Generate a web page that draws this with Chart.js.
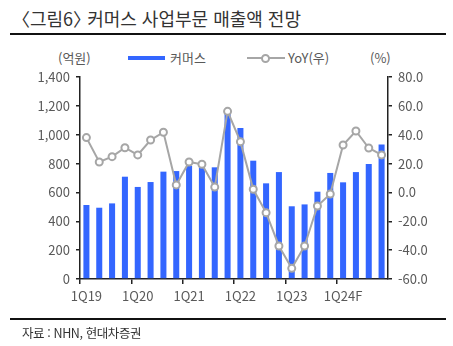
<!DOCTYPE html>
<html lang="ko">
<head>
<meta charset="utf-8">
<script src="https://cdn.jsdelivr.net/npm/chart.js@4"></script>
<style>
    body { margin: 0; background: #fff; font-family: 'Noto Sans CJK KR', sans-serif; }
    #wrap { position: relative; width: 453px; height: 346px; overflow: hidden; }
    #chartBox { position: absolute; left: 0; top: 0; width: 453px; height: 346px; }
    .title { position: absolute; left: 21px; top: 5px; font-size: 18px; color: #333; letter-spacing: 0px; white-space: nowrap; font-feature-settings: "halt"; }
    .rule { position: absolute; left: 10px; width: 436px; height: 2px; background: #111; }
    .src { position: absolute; left: 22px; top: 323px; font-size: 12.5px; color: #333; letter-spacing: -0.4px; white-space: nowrap; }
    .lg { position: absolute; font-size: 13px; color: #595959; white-space: nowrap; line-height: 14px; }
    .sw-bar { position: absolute; left: 128px; top: 56px; width: 37px; height: 4px; background: #3366ff; }
    .sw-line { position: absolute; left: 247px; top: 57px; width: 38px; height: 2px; background: #a6a6a6; }
    .sw-dot { position: absolute; left: 261px; top: 54px; width: 5px; height: 5px; border: 2px solid #a6a6a6; border-radius: 50%; background: #fff; }
</style>
</head>
<body>
<div id="wrap">
    <div class="title">〈그림6〉 커머스 사업부문 매출액 전망</div>
    <div class="rule" style="top:33px;"></div>
    <div class="lg" style="left:58px; top:51px;">(억원)</div>
    <div class="sw-bar"></div>
    <div class="lg" style="left:170px; top:51px;">커머스</div>
    <div class="sw-line"></div>
    <div class="sw-dot"></div>
    <div class="lg" style="left:288px; top:51px;">YoY(우)</div>
    <div class="lg" style="left:370px; top:51px;">(%)</div>
    <div id="chartBox"><canvas id="c"></canvas></div>
    <div class="rule" style="top:318px;"></div>
    <div class="src">자료 : NHN, 현대차증권</div>
</div>
<script>
// quarters 1Q19 .. 4Q24F
const quarters = [
    '1Q19', '2Q19', '3Q19', '4Q19',
    '1Q20', '2Q20', '3Q20', '4Q20',
    '1Q21', '2Q21', '3Q21', '4Q21',
    '1Q22', '2Q22', '3Q22', '4Q22',
    '1Q23', '2Q23', '3Q23', '4Q23',
    '1Q24F', '2Q24F', '3Q24F', '4Q24F'
];
// 커머스 매출액 (억원)
const commerceSales = [
    513, 494, 524, 709,
    638, 672, 744, 748,
    785, 774, 774, 1143,
    1046, 820, 663, 741,
    504, 517, 605, 735,
    670, 741, 797, 933
];
// YoY (%)
const yoyGrowth = [
    38.0, 21.1, 24.8, 31.0,
    26.0, 36.3, 41.7, 5.2,
    21.1, 19.5, 3.7, 56.2,
    35.2, 2.2, -14.0, -37.1,
    -52.6, -37.1, -9.4, -1.1,
    32.9, 42.6, 30.8, 26.0
];
const xTickLabels = ['1Q19', '1Q20', '1Q21', '1Q22', '1Q23', '1Q24F'];

const AXIS = '#222';
const TICK_TXT = '#595959';

Chart.defaults.font.family = "'Noto Sans CJK KR', sans-serif";
Chart.defaults.font.size = 13;
Chart.defaults.color = TICK_TXT;

new Chart(document.getElementById('c'), {
    data: {
        labels: quarters,
        datasets: [
            {
                type: 'line', label: 'YoY(우)', data: yoyGrowth, yAxisID: 'yR', order: 0,
                borderColor: '#a6a6a6', borderWidth: 2, tension: 0,
                pointRadius: 3.5, pointBorderWidth: 2, pointBorderColor: '#a6a6a6', pointBackgroundColor: '#fff',
                clip: false
            },
            {
                type: 'bar', label: '커머스', data: commerceSales, yAxisID: 'yL', order: 1,
                backgroundColor: '#3366ff', categoryPercentage: 1, barPercentage: 0.47
            }
        ]
    },
    options: {
        responsive: true, maintainAspectRatio: false, animation: false,
        layout: { padding: { top: 77, left: 0, right: 0, bottom: 0 } },
        plugins: { legend: { display: false }, tooltip: { enabled: false } },
        scales: {
            x: {
                grid: {
                    offset: true, drawOnChartArea: false, tickLength: 5, lineWidth: 1.5,
                    color: (ctx) => ctx.index % 4 === 0 ? AXIS : 'rgba(0,0,0,0)'
                },
                border: { display: true, color: AXIS, width: 1.5 },
                ticks: {
                    autoSkip: false, maxRotation: 0, padding: 4,
                    callback: (v, i) => xTickLabels.includes(quarters[i]) ? quarters[i] : ''
                },
                afterFit: (s) => { s.height = 67; }
            },
            yL: {
                position: 'left', min: 0, max: 1400,
                grid: { drawOnChartArea: false, tickLength: 4, color: AXIS, lineWidth: 1.5 },
                border: { display: true, color: AXIS, width: 1.5 },
                ticks: { stepSize: 200, padding: 6, callback: (v) => v.toLocaleString('en-US') },
                afterFit: (s) => { s.width = 80; }
            },
            yR: {
                position: 'right', min: -60, max: 80,
                grid: { drawOnChartArea: false, tickLength: 4, color: AXIS, lineWidth: 1.5 },
                border: { display: true, color: AXIS, width: 1.5 },
                ticks: { stepSize: 20, padding: 6, callback: (v) => v.toFixed(1) },
                afterFit: (s) => { s.width = 65; }
            }
        }
    }
});
</script>
</body>
</html>
